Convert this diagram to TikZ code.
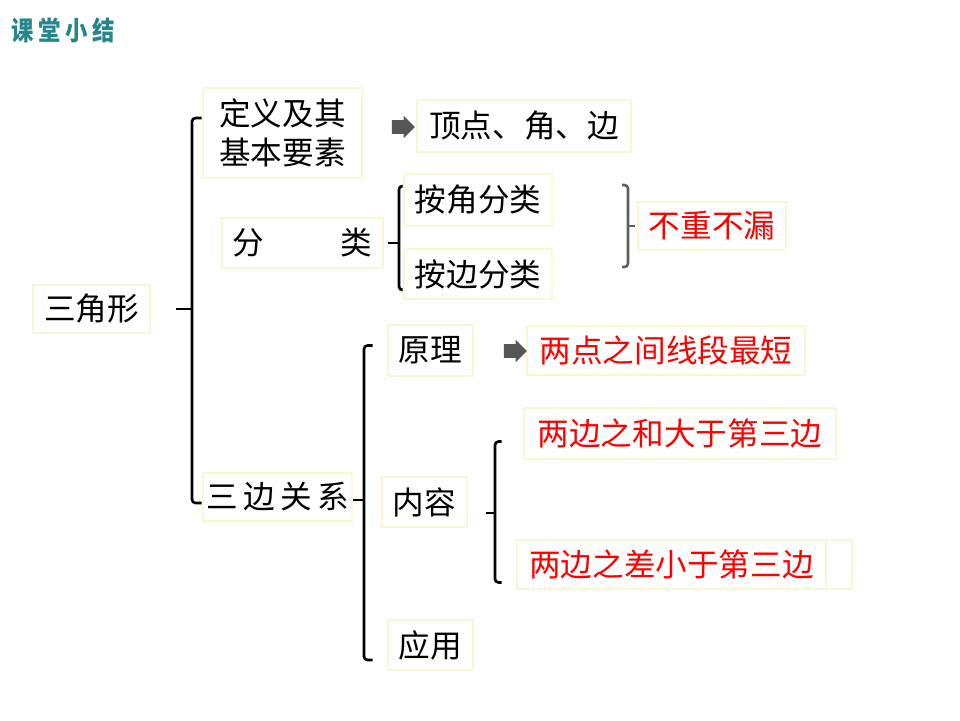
\documentclass[tikz,border=0pt]{standalone}
\usepackage{fontspec}
\setmainfont{Noto Sans CJK SC}
\usetikzlibrary{shapes.arrows}
\definecolor{boxyellow}{RGB}{250,248,212}
\definecolor{titleteal}{RGB}{38,134,140}
\definecolor{bracegray}{RGB}{95,95,95}
\definecolor{arrowgray}{RGB}{85,85,85}

\begin{document}
\begin{tikzpicture}[x=0.02cm, y=0.02cm]
		\tikzstyle{every node}+=[inner sep=0pt, font=\fontsize{18}{22}\selectfont]
		\tikzstyle{box}=[draw=boxyellow, line width=1.5pt, fill=white]
		\tikzstyle{redbox}=[box, text=red]
		\tikzstyle{brace}=[black, line width=1.5pt, rounded corners=2pt]
		\tikzstyle{graybrace}=[bracegray, line width=1.5pt, rounded corners=2pt]
		\tikzstyle{blockarrow}=[single arrow, fill=arrowgray, inner sep=0.13cm, minimum height=0.46cm, single arrow head extend=0.09cm]
		\useasboundingbox (0,0) rectangle (960,-720);
		\node[font=\fontsize{15}{17}\selectfont\bfseries, text=titleteal, xscale=0.85, transform shape] (title) at (63,-30) {课\hspace{3pt}堂\hspace{3pt}小\hspace{3pt}结};
		\node[box, minimum width=2.34cm, minimum height=0.96cm] (sanjiao) at (91.5,-309) {三角形};
		\node[box, minimum width=3.18cm, minimum height=1.8cm, align=left] (dingyi) at (282.5,-133) {定义及其\\基本要素};
		\node[box, minimum width=4.28cm, minimum height=1.04cm] (dingdian) at (524,-126) {顶点、角、边};
		\node[box, minimum width=3.22cm, minimum height=1cm] (fenlei) at (302.5,-243) {分\hspace{2.4em}类};
		\node[box, minimum width=2.96cm, minimum height=1.04cm] (anjiao) at (478,-200) {按角分类};
		\node[box, minimum width=2.96cm, minimum height=1cm] (anbian) at (478,-274) {按边分类};
		\node[redbox, minimum width=2.96cm, minimum height=0.96cm] (buchong) at (712,-226) {不重不漏};
		\node[box, minimum width=2.98cm, minimum height=0.96cm] (sanbian) at (277.5,-497) {三\,边\,关\,系};
		\node[box, minimum width=1.7cm, minimum height=1.02cm] (yuanli) at (430.5,-350.5) {原理};
		\node[redbox, minimum width=5.56cm, minimum height=0.98cm] (liangdian) at (666,-350.5) {两点之间线段最短};
		\node[redbox, minimum width=6.24cm, minimum height=1.02cm] (he) at (680,-433.5) {两边之和大于第三边};
		\node[box, minimum width=1.7cm, minimum height=1cm] (neirong) at (424.5,-502) {内容};
		\node[redbox, minimum width=6.18cm, minimum height=0.98cm] (cha) at (671.5,-564.5) {两边之差小于第三边};
		\node[box, minimum width=0.52cm, minimum height=0.98cm] (chaext) at (839,-564.5) {};
		\node[box, minimum width=1.7cm, minimum height=1cm] (yingyong) at (430.5,-645) {应用};
		\node[blockarrow] (arr1) at (400,-127) {};
		\node[blockarrow] (arr2) at (512,-351) {};
		\coordinate (b1) at (192,-309);
		\draw[brace] ([shift={(25,0)}]sanjiao.east) -- (b1);
		\draw[brace] ([shift={(0,15)}]dingyi.west) -| (b1) |- ([shift={(0,-6)}]sanbian.west);
		\coordinate (b2) at (399,-243);
		\draw[brace] ([shift={(4,0)}]fenlei.east) -- (b2);
		\draw[brace] ([shift={(0,14)}]anjiao.west) -| (b2) |- ([shift={(0,-16)}]anbian.west);
		\coordinate (g) at (628,-226);
		\draw[graybrace] (g) -- ([shift={(-2,0)}]buchong.west);
		\draw[graybrace] ([shift={(-6,41)}]g) -| (g) |- ([shift={(-6,-41)}]g);
		\coordinate (b3) at (364,-500);
		\draw[brace] (sanbian.east |- b3) -- (b3);
		\draw[brace] ([shift={(-14,5)}]yuanli.west) -| (b3) |- ([shift={(-14,-15)}]yingyong.west);
		\coordinate (b4) at (495,-513);
		\draw[brace] ([shift={(-9,0)}]b4) -- (b4);
		\draw[brace] ([shift={(-21,-8)}]he.west) -| (b4) |- ([shift={(-14,-18)}]cha.west);
\end{tikzpicture}
\end{document}
